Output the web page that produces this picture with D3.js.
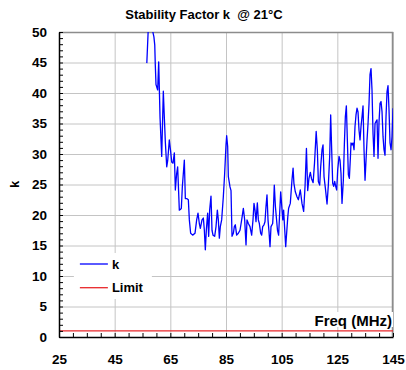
<!DOCTYPE html>
<html>
<head>
<meta charset="utf-8">
<script src="https://cdn.jsdelivr.net/npm/d3@7"></script>
<style>
body { margin: 0; background: #fff; }
svg text { font-family: "Liberation Sans", Arial, sans-serif; font-weight: bold; fill: #000; }
</style>
</head>
<body>
<div id="chart"></div>
<script>
// measured stability factor vs frequency
var freq = [
	56.55, 57.3, 59.1, 59.4, 59.6, 59.85, 60.45, 60.82, 61.3, 61.9,
	62.48, 62.8, 63.2, 63.7, 64.05, 64.63, 65.12, 65.48, 65.96, 66.44,
	66.8, 67.27, 67.63, 68.23, 68.59, 68.95, 69.31, 69.67, 70.03, 70.39,
	70.87, 71.47, 71.83, 72.3, 73.02, 73.86, 74.46, 74.94, 75.42, 75.78,
	76.38, 76.86, 77.22, 77.57, 77.93, 78.41, 78.77, 79.13, 79.61, 79.97,
	80.33, 80.93, 81.41, 81.89, 82.25, 82.61, 82.96, 83.44, 84.04, 84.52,
	85.0, 85.24, 85.6, 85.84, 86.44, 86.8, 87.16, 87.64, 88.0, 88.35,
	88.83, 89.43, 90.03, 90.63, 91.23, 91.71, 92.19, 92.55, 93.03, 93.62,
	94.22, 94.7, 95.06, 95.42, 95.78, 96.26, 96.62, 96.98, 97.46, 97.82,
	98.18, 98.65, 99.01, 99.37, 99.73, 100.09, 100.45, 100.81, 101.17, 101.77,
	102.0, 102.35, 102.75, 103.5, 103.9, 104.65, 105.4, 105.7, 106.45, 107.2,
	107.5, 108.1, 108.7, 109.1, 109.4, 109.9, 110.5, 111.0, 111.7, 112.3,
	112.9, 113.4, 113.9, 114.35, 114.8, 115.3, 115.7, 116.3, 116.8, 117.4,
	117.82, 118.18, 118.66, 119.02, 119.5, 119.86, 120.22, 120.7, 121.3, 121.77,
	122.25, 122.61, 122.97, 123.33, 123.69, 124.05, 124.41, 124.77, 125.13, 125.61,
	125.96, 126.32, 126.68, 127.16, 127.52, 127.88, 128.24, 128.6, 128.96, 129.32,
	129.68, 129.92, 130.28, 130.64, 131.0, 131.35, 131.71, 132.07, 132.43, 132.79,
	133.15, 133.51, 133.87, 134.23, 134.59, 134.95, 135.31, 135.67, 136.03, 136.39,
	136.74, 137.1, 137.46, 137.82, 138.18, 138.54, 138.9, 139.26, 139.62, 139.98,
	140.34, 140.7, 141.06, 141.42, 141.77, 142.13, 142.49, 142.85, 143.21, 143.57,
	143.93, 144.29, 144.65, 145.0
];
var kValues = [
	44.9, 53.0, 49.2, 47.9, 44.6, 41.4, 40.5, 45.1, 36.0, 29.6,
	40.3, 36.5, 32.0, 27.9, 28.9, 32.3, 30.4, 28.7, 28.5, 30.2,
	24.1, 26.8, 27.9, 20.8, 20.9, 21.1, 24.6, 26.8, 29.0, 22.7,
	22.7, 22.5, 19.2, 17.0, 16.7, 17.0, 19.2, 20.3, 18.6, 17.8,
	19.2, 19.5, 17.5, 14.3, 17.5, 20.3, 16.5, 20.8, 23.1, 17.5,
	16.7, 16.5, 18.1, 20.8, 19.2, 16.2, 18.1, 19.2, 23.0, 26.8,
	31.5, 33.0, 31.2, 26.3, 24.6, 24.0, 16.5, 17.0, 18.1, 18.4,
	16.7, 17.0, 17.5, 19.2, 21.1, 19.2, 15.1, 19.2, 18.6, 18.1,
	16.7, 19.2, 21.9, 20.8, 18.9, 22.0, 19.2, 18.6, 17.0, 16.7,
	18.1, 18.4, 18.9, 21.4, 23.3, 19.2, 17.3, 14.8, 18.1, 18.6,
	20.5, 24.9, 21.4, 17.5, 16.7, 23.8, 19.2, 20.8, 14.8, 19.7,
	21.1, 21.9, 25.7, 27.7, 25.2, 23.8, 23.0, 22.5, 24.1, 21.9,
	20.6, 24.7, 30.9, 24.0, 26.0, 27.0, 26.0, 25.3, 28.5, 33.7,
	30.7, 25.5, 24.9, 27.9, 30.7, 31.5, 26.3, 24.4, 21.8, 24.9,
	29.6, 36.4, 30.7, 25.2, 24.7, 25.5, 24.7, 24.1, 27.4, 29.6,
	29.0, 26.8, 21.9, 25.7, 31.5, 36.1, 37.9, 32.3, 26.6, 26.0,
	29.3, 31.8, 31.5, 31.8, 30.7, 34.5, 36.4, 37.5, 36.9, 33.9,
	32.3, 34.5, 36.1, 37.9, 30.7, 25.7, 29.0, 32.3, 35.0, 38.3,
	43.0, 44.0, 40.5, 33.4, 29.6, 35.0, 35.3, 35.6, 29.3, 35.3,
	38.3, 38.6, 36.9, 32.8, 30.7, 29.8, 36.1, 40.2, 41.2, 37.2,
	31.8, 30.7, 32.8, 37.5
];
var limitFreq = [25, 145];
var limitValues = [1, 1];
var xTicks = [25, 45, 65, 85, 105, 125, 145];
var yTicks = [0, 5, 10, 15, 20, 25, 30, 35, 40, 45, 50];
var seriesNames = ["k", "Limit"];
var seriesColors = ["#0000ff", "#e8262a"];

var margin = {top: 32, right: 13, bottom: 33, left: 59},
		width = 406 - margin.left - margin.right,
		height = 370 - margin.top - margin.bottom;

var x = d3.scaleLinear().domain([25, 145]).range([0, width]);
var y = d3.scaleLinear().domain([0, 50]).range([height, 0]);

var root = d3.select("#chart").append("svg")
    .attr("width", 406)
    .attr("height", 370);

var svg = root.append("g")
    .attr("transform", "translate(" + margin.left + "," + margin.top + ")");

svg.append("clipPath")
    .attr("id", "plot-clip")
  .append("rect")
    .attr("width", width)
    .attr("height", height);

// grid
svg.append("g")
    .attr("class", "grid")
    .call(d3.axisLeft(y).tickValues(yTicks).tickSize(-width).tickFormat(""))
    .call(function(g) {
    	g.select(".domain").remove();
    	g.selectAll("line").attr("stroke", "#c4c4c4").attr("stroke-width", 1);
    });
svg.append("g")
    .attr("class", "grid")
    .attr("transform", "translate(0," + height + ")")
    .call(d3.axisBottom(x).tickValues(xTicks).tickSize(-height).tickFormat(""))
    .call(function(g) {
    	g.select(".domain").remove();
    	g.selectAll("line").attr("stroke", "#c4c4c4").attr("stroke-width", 1);
    });

// frame top and right
svg.append("path")
    .attr("d", "M0,0.5H" + (width - 0.5) + "V" + height)
    .attr("fill", "none")
    .attr("stroke", "#8c8c8c")
    .attr("stroke-width", 1.5);

// limit line
var line = d3.line()
    .x(function(d) { return x(d[0]); })
    .y(function(d) { return y(d[1]); });

svg.append("path")
    .datum(d3.zip(limitFreq, limitValues))
    .attr("fill", "none")
    .attr("stroke", seriesColors[1])
    .attr("stroke-width", 1.3)
    .attr("d", line);

// k trace
svg.append("path")
    .datum(d3.zip(freq, kValues))
    .attr("clip-path", "url(#plot-clip)")
    .attr("fill", "none")
    .attr("stroke", seriesColors[0])
    .attr("stroke-width", 1.3)
    .attr("stroke-linejoin", "round")
    .attr("d", line);

// axes: labels
svg.append("g")
    .attr("class", "axis axis--y")
    .call(d3.axisLeft(y).tickValues(yTicks).tickSize(0).tickPadding(12))
    .call(function(g) {
    	g.select(".domain").remove();
    	g.selectAll("text").style("font-size", "13.5px");
    });
svg.append("g")
    .attr("class", "axis axis--x")
    .attr("transform", "translate(0," + height + ")")
    .call(d3.axisBottom(x).tickValues(xTicks).tickSize(0).tickPadding(17))
    .call(function(g) {
    	g.select(".domain").remove();
    	g.selectAll("text").style("font-size", "13.5px");
    });

// minor ticks pointing inward
svg.append("g")
    .call(d3.axisRight(y).tickValues(d3.range(0, 51, 1)).tickSize(4).tickSizeOuter(0).tickFormat(""))
    .call(function(g) {
    	g.select(".domain").attr("stroke", "#000").attr("stroke-width", 1.5);
    	g.selectAll("line").attr("stroke", "#000");
    });
svg.append("g")
    .attr("transform", "translate(0," + height + ")")
    .call(d3.axisTop(x).tickValues(d3.range(25, 146, 5)).tickSize(4).tickSizeOuter(0).tickFormat(""))
    .call(function(g) {
    	g.select(".domain").attr("stroke", "#000").attr("stroke-width", 1.5);
    	g.selectAll("line").attr("stroke", "#000");
    });

// axis titles
var freqBg = svg.append("rect").attr("fill", "#fff");
var freqLabel = svg.append("text")
    .attr("x", width - 1)
    .attr("y", height - 11)
    .attr("text-anchor", "end")
    .style("font-size", "15px")
    .text("Freq (MHz)");
var bb = freqLabel.node().getBBox();
freqBg
    .attr("x", bb.x - 2)
    .attr("y", bb.y)
    .attr("width", bb.width + 3)
    .attr("height", bb.height - 2);

svg.append("text")
    .attr("transform", "translate(-40," + (height / 2) + ") rotate(-90)")
    .attr("text-anchor", "middle")
    .style("font-size", "13px")
    .text("k");

// title
root.append("text")
    .attr("x", 204)
    .attr("y", 18.5)
    .attr("text-anchor", "middle")
    .style("font-size", "13px")
    .text("Stability Factor k\u00a0 @ 21\u00b0C");

// legend
var legend = svg.append("g")
    .attr("transform", "translate(" + x(32.5) + ",0)");
legend.append("rect")
    .attr("x", -6)
    .attr("y", 221)
    .attr("width", 78)
    .attr("height", 46)
    .attr("fill", "#fff");
seriesNames.forEach(function(name, i) {
	var ly = 232 + i * 23.7;
	legend.append("line")
	    .attr("x1", 0).attr("x2", 28)
	    .attr("y1", ly).attr("y2", ly)
	    .attr("stroke", seriesColors[i])
	    .attr("stroke-width", 1.3);
	legend.append("text")
	    .attr("x", 32)
	    .attr("y", ly + 4.5)
	    .style("font-size", "13px")
	    .text(name);
});
</script>
</body>
</html>
